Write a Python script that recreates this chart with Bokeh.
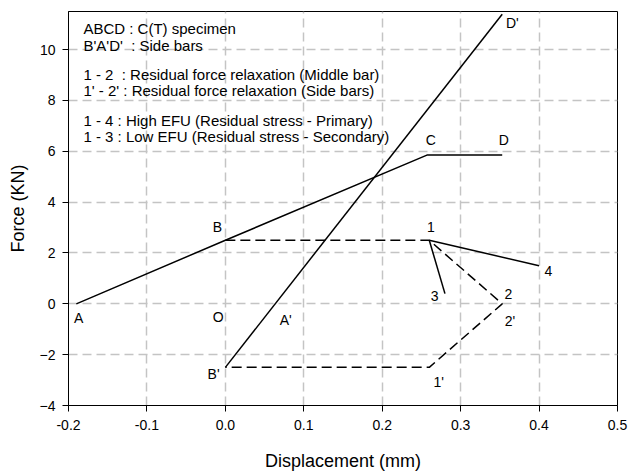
from bokeh.plotting import figure
from bokeh.models import FixedTicker, NumeralTickFormatter, Range1d
from bokeh.core.properties import value
from bokeh.embed import file_html
from bokeh.resources import INLINE

# ---- data ----
x_ticks = [-0.2, -0.1, 0.0, 0.1, 0.2, 0.3, 0.4, 0.5]
y_ticks = [-4, -2, 0, 2, 4, 6, 8, 10]

specimen_x = [-0.19, 0.0, 0.257, 0.353]   # A B C D
specimen_y = [0.0, 2.5, 5.85, 5.85]

side_x = [0.0, 0.353]                      # B' -> D'
side_y = [-2.5, 11.39]

relax_x = [0.0, 0.26, 0.353, 0.26, 0.0]    # B 1 2 1' B'
relax_y = [2.5, 2.5, 0.0, -2.5, -2.5]

high_x = [0.26, 0.40]                      # 1 -> 4
high_y = [2.5, 1.5]

low_x = [0.26, 0.28]                       # 1 -> 3
low_y = [2.5, 0.4]

point_labels = ["A", "B", "C", "D", "O", "A'", "B'", "D'", "1", "2", "3", "4", "1'", "2'"]
label_x = [-0.187, -0.01, 0.262, 0.355, -0.009, 0.077, -0.015, 0.366, 0.262, 0.361, 0.267, 0.412, 0.272, 0.363]
label_y = [-0.57, 3.03, 6.43, 6.43, -0.53, -0.63, -2.77, 11.05, 3.03, 0.39, 0.31, 1.3, -3.06, -0.67]

NB = "\u00a0"
notes = [
    "ABCD : C(T) specimen",
    "B'A'D'" + NB + " : Side bars",
    "1 - 2" + NB + " : Residual force relaxation (Middle bar)",
    "1' - 2' : Residual force relaxation (Side bars)",
    "1 - 4 : High EFU (Residual stress - Primary)",
    "1 - 3 : Low EFU (Residual stress - Secondary)",
]
notes_x = [-0.181] * 6
notes_y = [10.82, 10.17, 9.03, 8.40, 7.20, 6.57]

FONT = "Liberation Sans"

p = figure(width=628, height=473, output_backend="svg", toolbar_location=None,
           x_range=Range1d(-0.2, 0.5), y_range=Range1d(-4, 11.5),
           min_border_left=68, min_border_right=11, min_border_top=11, min_border_bottom=67)
p.background_fill_color = "white"
p.border_fill_color = "white"
p.outline_line_color = "black"
p.outline_line_width = 1

for ax in (p.xaxis[0], p.yaxis[0]):
    ax.major_label_text_font = FONT
    ax.major_label_text_font_size = "14px"
    ax.major_label_text_color = "black"
    ax.axis_label_text_font = FONT
    ax.axis_label_text_font_style = "normal"
    ax.axis_label_text_font_size = "18px"
    ax.axis_label_text_color = "black"
    ax.axis_line_color = "black"
    ax.major_tick_line_color = "black"
    ax.major_tick_out = 6
    ax.major_tick_in = 0
    ax.minor_tick_line_color = None

p.xaxis.ticker = FixedTicker(ticks=x_ticks)
p.yaxis.ticker = FixedTicker(ticks=y_ticks)
p.xaxis.formatter = NumeralTickFormatter(format="0.0")
p.xaxis.axis_label = "Displacement (mm)"
p.yaxis.axis_label = "Force (KN)"
p.xaxis.major_label_standoff = 8
p.yaxis.major_label_standoff = 7
p.xaxis.axis_label_standoff = 18
p.yaxis.axis_label_standoff = 9

for g in (p.xgrid[0], p.ygrid[0]):
    g.grid_line_color = "#c4c4c4"
    g.grid_line_width = 1.5
    g.grid_line_dash = "9 5"

p.line(specimen_x, specimen_y, line_color="black", line_width=1.5)
p.line(side_x, side_y, line_color="black", line_width=1.5)
p.line(high_x, high_y, line_color="black", line_width=1.5)
p.line(low_x, low_y, line_color="black", line_width=1.5)
p.line(relax_x, relax_y, line_color="black", line_width=1.5, line_dash="10 5")

p.text(x=label_x, y=label_y, text=point_labels, text_font=value(FONT),
       text_font_size="14px", text_color="black", text_align="center", text_baseline="middle")

p.text(x=notes_x, y=notes_y, text=notes, text_font=value(FONT),
       text_font_size="15px", text_color="black", text_align="left", text_baseline="alphabetic")

open("out.html", "w").write(file_html(p, INLINE))
